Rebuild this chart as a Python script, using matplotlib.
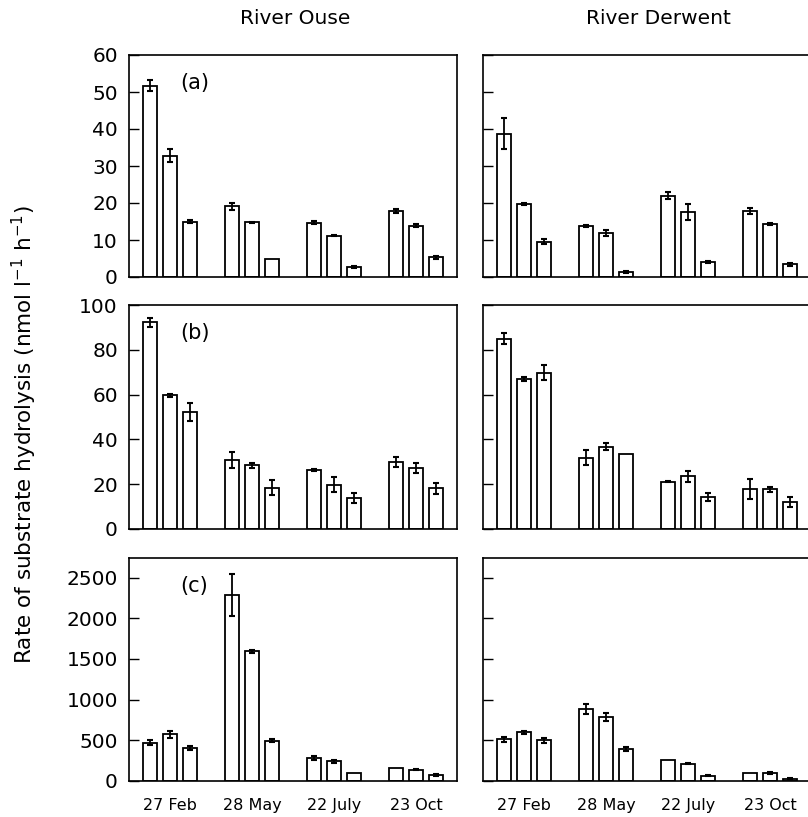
import numpy as np
import matplotlib.pyplot as plt

plt.rcParams['font.family'] = ['DejaVu Sans']

# sampling dates (groups of three bars each)
dates = ["27 Feb", "28 May", "22 July", "23 Oct"]

# panel (a)
ouse_a = [51.7, 32.8, 14.9, 19.1, 14.8, 5.0, 14.7, 11.2, 2.7, 17.9, 13.9, 5.3]
ouse_a_err = [1.5, 1.8, 0.4, 0.9, 0.2, 0.0, 0.4, 0.2, 0.3, 0.5, 0.5, 0.3]
derwent_a = [38.7, 19.8, 9.5, 13.8, 11.9, 1.3, 22.0, 17.5, 4.1, 17.8, 14.4, 3.4]
derwent_a_err = [4.2, 0.3, 0.7, 0.2, 0.8, 0.3, 0.9, 2.2, 0.2, 0.9, 0.3, 0.3]

# panel (b)
ouse_b = [92.3, 59.6, 52.3, 30.8, 28.4, 18.4, 26.3, 19.8, 13.7, 30.0, 27.2, 18.1]
ouse_b_err = [1.9, 0.7, 4.1, 3.6, 1.2, 3.3, 0.5, 3.3, 2.3, 2.3, 2.4, 2.5]
derwent_b = [85.0, 67.1, 69.8, 31.9, 36.8, 33.4, 21.1, 23.5, 14.3, 17.8, 17.7, 12.2]
derwent_b_err = [2.5, 0.9, 3.2, 3.5, 1.4, 0.0, 0.3, 2.4, 1.9, 4.5, 1.0, 2.2]

# panel (c)
ouse_c = [472, 574, 406, 2282, 1594, 496, 283, 242, 103, 165, 140, 70]
ouse_c_err = [30, 40, 20, 256, 20, 20, 20, 15, 0, 0, 10, 10]
derwent_c = [513, 599, 500, 885, 787, 390, 254, 213, 66, 103, 95, 30]
derwent_c_err = [30, 20, 30, 60, 45, 25, 0, 5, 10, 0, 10, 5]

panels = [
    ("(a)", ouse_a, ouse_a_err, derwent_a, derwent_a_err, 60, 10),
    ("(b)", ouse_b, ouse_b_err, derwent_b, derwent_b_err, 100, 20),
    ("(c)", ouse_c, ouse_c_err, derwent_c, derwent_c_err, 2740, 500),
]

fig = plt.figure(figsize=(8.08, 8.17), dpi=100)

W, H = 808, 817
col_left = [129, 483]
col_width = 328
row_top = [55, 305, 558]
row_bottom = [277, 529, 781]

offsets = np.array([-0.245, 0.0, 0.245])
bar_w = 0.175
group_x = np.arange(len(dates))

for r, (letter, ouse, ouse_err, derw, derw_err, ymax, step) in enumerate(panels):
    for c, (vals, errs) in enumerate([(ouse, ouse_err), (derw, derw_err)]):
        ax = fig.add_axes([col_left[c] / W, 1 - row_bottom[r] / H,
                           col_width / W, (row_bottom[r] - row_top[r]) / H])
        v = np.array(vals).reshape(4, 3)
        e = np.array(errs).reshape(4, 3)
        for k in range(3):
            x = group_x + offsets[k]
            ax.bar(x, v[:, k], width=bar_w, color='white', edgecolor='black',
                   linewidth=1.3, zorder=2)
            mask = e[:, k] > 0
            ax.errorbar(x[mask], v[mask, k], yerr=e[mask, k], fmt='none',
                        ecolor='black', elinewidth=1.3, capsize=2.5,
                        capthick=1.5, zorder=3)
        ax.set_xlim(-0.5, 3.5)
        ax.set_ylim(0, ymax)
        top_tick = 2500 if r == 2 else ymax
        ax.set_yticks(np.arange(0, top_tick + 1, step))
        ax.tick_params(axis='y', direction='in', length=7, width=1,
                       labelsize=14.5, pad=8)
        ax.set_xticks(group_x)
        if r == 2:
            ax.set_xticklabels(dates, fontsize=11.5)
        else:
            ax.set_xticklabels([])
        ax.tick_params(axis='x', length=0, pad=12.5)
        if c == 1:
            ax.tick_params(axis='y', labelleft=False)
        else:
            ax.text(0.2, 0.875, letter, transform=ax.transAxes,
                    fontsize=15, ha='center', va='center')
        for s in ax.spines.values():
            s.set_linewidth(1.2)

fig.text(295 / W, 1 - 18 / H, "River Ouse", ha='center', va='center',
         fontsize=14.5)
fig.text(658 / W, 1 - 18 / H, "River Derwent", ha='center', va='center',
         fontsize=14.5)
fig.text(24 / W, 1 - 435 / H,
         r"Rate of substrate hydrolysis (nmol l$^{-1}$ h$^{-1}$)",
         rotation=90, ha='center', va='center', fontsize=15.5)

fig.savefig("out.png", dpi=100)
